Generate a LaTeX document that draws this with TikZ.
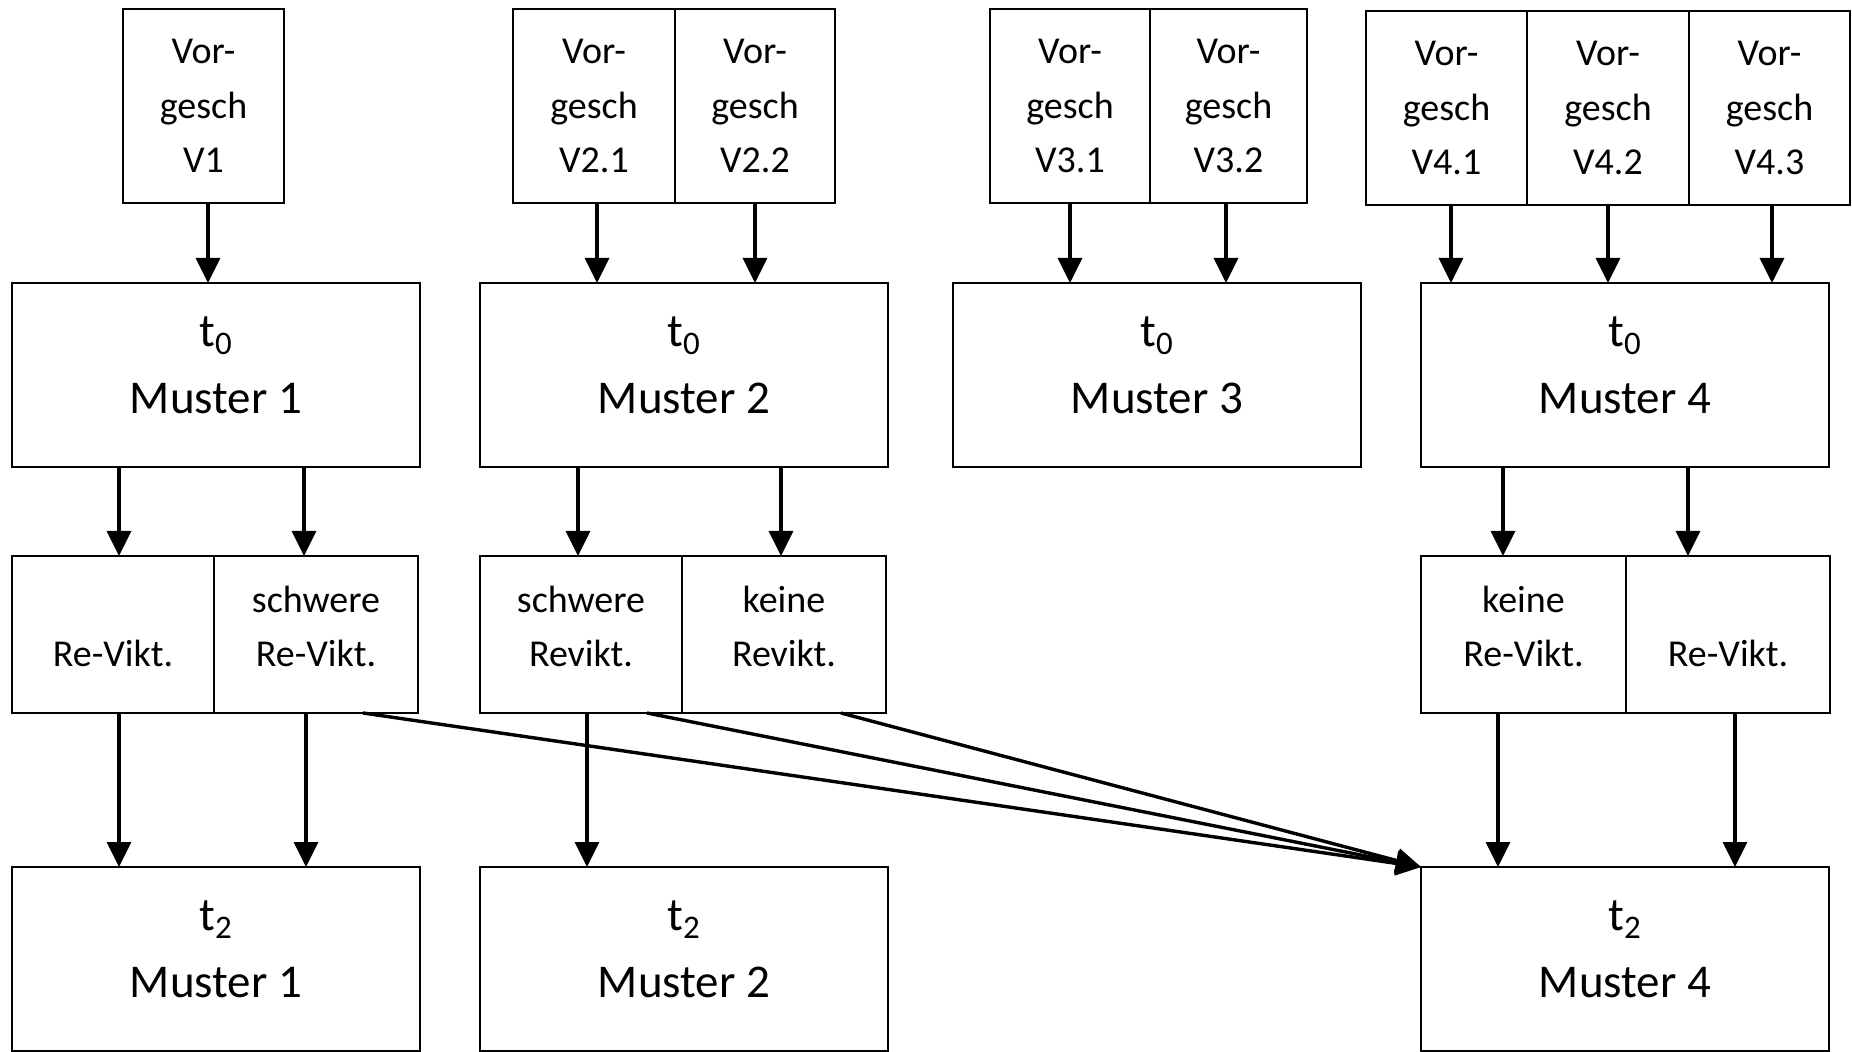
\documentclass[tikz,border=0pt]{standalone}
\usepackage{fontspec}
\setmainfont{Carlito}
\usetikzlibrary{arrows.meta}
% vertical connector from the bottom of #1 to the top of #2, shifted by #3
\newcommand\vlink[3]{\draw[arr] ([xshift=#3]#1.south) -- ([xshift=#3]#1.south |- #2.north);}
\begin{document}
\begin{tikzpicture}[x=0.5pt,y=-0.5pt,
  cell/.style={draw=black, line width=1.1pt, inner sep=0pt, outer sep=0pt,
    align=center, font=\fontsize{19}{27.3}\selectfont},
  pre/.style={cell, minimum height=97pt},
  split/.style={cell, minimum height=78.5pt, text depth=8pt},
  stage/.style={draw=black, line width=1.1pt, inner sep=0pt, outer sep=0pt,
    align=center, minimum width=204pt, minimum height=92pt, text depth=9.5pt,
    font=\fontsize{23.5}{33.5}\selectfont},
  arr/.style={line width=1.7pt, -{Triangle[length=12.5pt,width=12pt]}}]
\useasboundingbox (0,0) rectangle (1852,1052);

% prior histories
\node[pre, minimum width=80.5pt] (v1)  at (203.5,106) {Vor-\\gesch\\V1};
\node[pre, minimum width=81pt]   (v21) at (594,106)   {Vor-\\gesch\\V2.1};
\node[pre, minimum width=80pt]   (v22) at (755,106)   {Vor-\\gesch\\V2.2};
\node[pre, minimum width=80pt]   (v31) at (1070,106)  {Vor-\\gesch\\V3.1};
\node[pre, minimum width=78.5pt] (v32) at (1228.5,106){Vor-\\gesch\\V3.2};
\node[pre, minimum width=80.5pt] (v41) at (1446.5,108){Vor-\\gesch\\V4.1};
\node[pre, minimum width=81pt]   (v42) at (1608,108)  {Vor-\\gesch\\V4.2};
\node[pre, minimum width=80.5pt] (v43) at (1769.5,108){Vor-\\gesch\\V4.3};

% patterns at t0
\node[stage] (m1) at (216,375)  {t\textsubscript{0}\\Muster 1};
\node[stage] (m2) at (684,375)  {t\textsubscript{0}\\Muster 2};
\node[stage] (m3) at (1157,375) {t\textsubscript{0}\\Muster 3};
\node[stage] (m4) at (1625,375) {t\textsubscript{0}\\Muster 4};

% revictimisation split
\node[split, minimum width=101pt]   (r1a) at (113,634.5)    {\vphantom{schwere}\\Re-Vikt.};
\node[split, minimum width=102pt]   (r1b) at (316,634.5)    {schwere\\Re-Vikt.};
\node[split, minimum width=101pt]   (r2a) at (581,634.5)    {schwere\\Revikt.};
\node[split, minimum width=102pt]   (r2b) at (784,634.5)    {keine\\Revikt.};
\node[split, minimum width=102.5pt] (r4a) at (1523.5,634.5) {keine\\Re-Vikt.};
\node[split, minimum width=102pt]   (r4b) at (1728,634.5)   {\vphantom{keine}\\Re-Vikt.};

% patterns at t2
\node[stage] (b1) at (216,959)  {t\textsubscript{2}\\Muster 1};
\node[stage] (b2) at (684,959)  {t\textsubscript{2}\\Muster 2};
\node[stage] (b4) at (1625,959) {t\textsubscript{2}\\Muster 4};

% histories into t0
\vlink{v1}{m1}{2.25pt}
\vlink{v21}{m2}{1.5pt}
\vlink{v22}{m2}{0pt}
\vlink{v31}{m3}{0pt}
\vlink{v32}{m3}{-1.25pt}
\vlink{v41}{m4}{2.25pt}
\vlink{v42}{m4}{0pt}
\vlink{v43}{m4}{1.25pt}

% t0 into the splits
\draw[arr] ([xshift=3pt]r1a.north |- m1.south) -- ([xshift=3pt]r1a.north);
\draw[arr] ([xshift=-6pt]r1b.north |- m1.south) -- ([xshift=-6pt]r1b.north);
\draw[arr] ([xshift=-1.5pt]r2a.north |- m2.south) -- ([xshift=-1.5pt]r2a.north);
\draw[arr] ([xshift=-1.5pt]r2b.north |- m2.south) -- ([xshift=-1.5pt]r2b.north);
\draw[arr] ([xshift=-10.25pt]r4a.north |- m4.south) -- ([xshift=-10.25pt]r4a.north);
\draw[arr] ([xshift=-20pt]r4b.north |- m4.south) -- ([xshift=-20pt]r4b.north);

% splits into t2
\vlink{r1a}{b1}{3pt}
\vlink{r1b}{b1}{-5pt}
\vlink{r2a}{b2}{3pt}
\vlink{r4a}{b4}{-12.75pt}
\vlink{r4b}{b4}{3.5pt}

% crossings into t2 Muster 4
\draw[arr] ([xshift=23.5pt]r1b.south) -- (b4.north west);
\draw[arr] ([xshift=33pt]r2a.south) -- (b4.north west);
\draw[arr] ([xshift=28.5pt]r2b.south) -- (b4.north west);
\end{tikzpicture}
\end{document}
